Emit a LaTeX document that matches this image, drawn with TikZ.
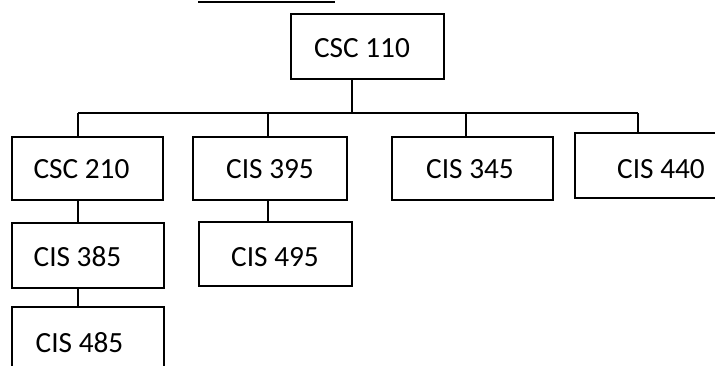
\documentclass[tikz,border=0pt]{standalone}
\usepackage{fontspec}
\setmainfont{Carlito}
\usetikzlibrary{calc}
\tikzset{
  box/.style={draw=black, line width=2pt, rectangle, inner sep=0pt},
  conn/.style={draw=black, line width=1.6pt},
  lbl/.style={anchor=base, inner sep=0pt, font=\fontsize{29.3}{35}\selectfont}
}
\begin{document}
\begin{tikzpicture}[x=1pt,y=-1pt]
\useasboundingbox (0,0) rectangle (715,366);
\clip (0,0) rectangle (715,366);
% boxes
\node[box, minimum width=153pt, minimum height=65pt] (c110) at (367.5,46.5) {};
\node[box, minimum width=151pt, minimum height=63pt] (c210) at (87.5,168.5) {};
\node[box, minimum width=154pt, minimum height=63pt] (i395) at (270,168.5) {};
\node[box, minimum width=161pt, minimum height=63pt] (i345) at (472.5,168.5) {};
\node[box, minimum width=175pt, minimum height=65pt] (i440) at (662.5,165.5) {};
\node[box, minimum width=152pt, minimum height=65pt] (i385) at (88,255.5) {};
\node[box, minimum width=153pt, minimum height=64pt] (i495) at (275.5,254) {};
\node[box, minimum width=152pt, minimum height=73pt] (i485) at (88,343.5) {};
% texts
\node[lbl] (t110) at (362,58) {CSC 110};
\node[lbl] (t210) at (81.5,179) {CSC 210};
\node[lbl] (t395) at (270,179) {CIS 395};
\node[lbl] (t345) at (470,179) {CIS 345};
\node[lbl] (t440) at (661,179) {CIS 440};
\node[lbl] (t385) at (77.5,266) {CIS 385};
\node[lbl] (t495) at (275,266) {CIS 495};
\node[lbl] (t485) at (79.5,352) {CIS 485};
% connector points
\coordinate (bus) at (352,113);
\coordinate (busL) at (78,113);
\coordinate (busR) at (638,113);
\coordinate (d395) at (268,113);
\coordinate (d345) at (466,113);
\coordinate (ulA) at (198,2);
\coordinate (ulB) at (335,2);
% connectors
\draw[conn] (ulA) -- (ulB);
\draw[conn] (c110.south -| bus) -- (bus);
\draw[conn] (busL) -- (busR);
\draw[conn] (busL) -- (busL |- c210.north);
\draw[conn] (d395) -- (d395 |- i395.north);
\draw[conn] (d345) -- (d345 |- i345.north);
\draw[conn] (busR) -- (busR |- i440.north);
\draw[conn] (c210.south -| busL) -- (i385.north -| busL);
\draw[conn] (i385.south -| busL) -- (i485.north -| busL);
\draw[conn] (i395.south -| d395) -- (i495.north -| d395);
\end{tikzpicture}
\end{document}
